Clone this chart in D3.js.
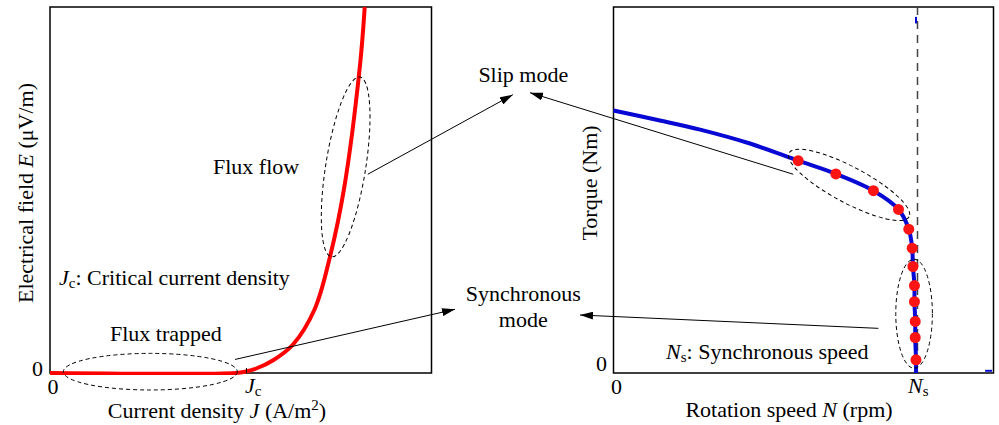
<!DOCTYPE html>
<html>
<head>
<meta charset="utf-8">
<script src="https://d3js.org/d3.v7.min.js"></script>
<style>
	body { margin: 0; background: #fff; }
	svg { display: block; font-family: "Liberation Serif", "Times New Roman", serif; }
</style>
</head>
<body>
<div id="chart"></div>
<script>
// E-J curve of the superconductor (arbitrary units, 0..100)
var currentJ = [0, 48.7, 51.3, 54.2, 58.5, 63.7, 69.4, 73.4, 77.1, 81.2, 82.5];
var fieldE   = [0, 0, 0.4, 1.3, 3.5, 7.8, 17.5, 31.8, 50.5, 83.5, 100];

// torque / rotation speed curve (arbitrary units, Ns = 80)
var speedN  = [0, 12.2, 22.8, 35.9, 48.6, 58.5, 68.4, 75.0, 77.7, 78.6, 78.8, 79.2, 79.2, 79.4, 79.4, 79.6, 79.6];
var torqueT = [71.7, 69.0, 66.5, 62.7, 58.0, 54.4, 49.8, 44.7, 39.3, 34.1, 29.1, 23.9, 19.5, 14.1, 9.7, 3.6, 0];

// measured points on top of the torque curve
var dotN = [48.6, 58.5, 68.4, 75.0, 77.7, 78.6, 78.8, 79.2, 79.2, 79.4, 79.4, 79.6];
var dotT = [58.0, 54.4, 49.8, 44.7, 39.3, 34.1, 29.1, 23.9, 19.5, 14.1, 9.7, 3.6];

// small stray pieces of the blue trace
var strayN = [[79.6, 79.6], [97.8, 99.6]];
var strayT = [[97.3, 95.5], [0.6, 0.6]];

// tick values
var jcValue = 51.5;
var nsValue = 80;

var width = 999, height = 425;

var svg = d3.select("#chart").append("svg")
	.attr("width", width)
	.attr("height", height);

// arrow head
svg.append("defs").append("marker")
	.attr("id", "arrow")
	.attr("markerUnits", "userSpaceOnUse")
	.attr("viewBox", "0 0 13 8")
	.attr("refX", 13)
	.attr("refY", 4)
	.attr("markerWidth", 13)
	.attr("markerHeight", 8)
	.attr("orient", "auto")
	.append("path")
	.attr("d", "M0,0L13,4L0,8Z")
	.attr("fill", "#000");

// scales for both panels
var xL = d3.scaleLinear().domain([0, 100]).range([50, 431.5]);
var yL = d3.scaleLinear().domain([0, 100]).range([373, 7]);
var xR = d3.scaleLinear().domain([0, 100]).range([613.5, 993.5]);
var yR = d3.scaleLinear().domain([0, 100]).range([373, 7]);

var fontSize = 22;

function zipXY(a, b) {
	return a.map(function (d, i) { return [d, b[i]]; });
}

function addText(sel, x, y, parts, anchor, rotate) {
	var t = sel.append("text")
		.attr("x", x)
		.attr("y", y)
		.attr("font-size", fontSize)
		.attr("text-anchor", anchor || "start")
		.attr("fill", "#000");
	if (rotate) t.attr("transform", "rotate(" + rotate + "," + x + "," + y + ")");
	parts.forEach(function (p) {
		var s = t.append("tspan").text(p.t);
		if (p.i) s.attr("font-style", "italic");
		if (p.sub) s.attr("font-size", 15).attr("baseline-shift", "-3");
		if (p.sup) s.attr("font-size", 15).attr("baseline-shift", "8");
	});
	return t;
}

// ---------- left panel ----------
svg.append("clipPath").attr("id", "clipL").append("rect")
	.attr("x", 48).attr("y", 7).attr("width", 383.5).attr("height", 368);

svg.append("rect")
	.attr("x", 50).attr("y", 7).attr("width", 381.5).attr("height", 366)
	.attr("fill", "none").attr("stroke", "#000").attr("stroke-width", 1.5);

var lineL = d3.line()
	.x(function (d) { return xL(d[0]); })
	.y(function (d) { return yL(d[1]); })
	.curve(d3.curveCatmullRom.alpha(0.5));

svg.append("path")
	.datum(zipXY(currentJ, fieldE))
	.attr("clip-path", "url(#clipL)")
	.attr("d", lineL)
	.attr("fill", "none")
	.attr("stroke", "#ff0000")
	.attr("stroke-width", 4);

// Jc tick
svg.append("line")
	.attr("x1", xL(jcValue)).attr("x2", xL(jcValue))
	.attr("y1", yL(0)).attr("y2", yL(0) - 5)
	.attr("stroke", "#000").attr("stroke-width", 1);

addText(svg, 43, 375.5, [{t: "0"}], "end");
addText(svg, xL(0) + 3, 393.5, [{t: "0"}], "middle");
addText(svg, xL(jcValue) - 1.5, 393, [{t: "J", i: 1}, {t: "c", sub: 1}], "start");
addText(svg, 217, 418, [{t: "Current density "}, {t: "J", i: 1}, {t: " (A/m"}, {t: "2", sup: 1}, {t: ")"}], "middle");
addText(svg, 33, 193, [{t: "Electrical field "}, {t: "E", i: 1}, {t: " (\u03bcV/m)"}], "middle", -90);

addText(svg, 213, 173.5, [{t: "Flux flow"}], "start");
addText(svg, 59, 285, [{t: "J", i: 1}, {t: "c", sub: 1}, {t: ": Critical current density"}], "start");
addText(svg, 110, 340.5, [{t: "Flux trapped"}], "start");

// ---------- right panel ----------
svg.append("rect")
	.attr("x", 613.5).attr("y", 7).attr("width", 380).attr("height", 366)
	.attr("fill", "none").attr("stroke", "#000").attr("stroke-width", 1.5);

var lineR = d3.line()
	.x(function (d) { return xR(d[0]); })
	.y(function (d) { return yR(d[1]); })
	.curve(d3.curveCatmullRom.alpha(0.5));

// synchronous speed
svg.append("line")
	.attr("x1", xR(nsValue)).attr("x2", xR(nsValue))
	.attr("y1", yR(100)).attr("y2", yR(0))
	.attr("stroke", "#444").attr("stroke-width", 1.5)
	.attr("stroke-dasharray", "8,6");

svg.append("path")
	.datum(zipXY(speedN, torqueT))
	.attr("d", lineR)
	.attr("fill", "none")
	.attr("stroke", "#0808d4")
	.attr("stroke-width", 4);

strayN.forEach(function (n, i) {
	svg.append("path")
		.datum(zipXY(n, strayT[i]))
		.attr("d", d3.line().x(function (d) { return xR(d[0]); }).y(function (d) { return yR(d[1]); }))
		.attr("fill", "none")
		.attr("stroke", "#0808d4")
		.attr("stroke-width", 2);
});

svg.selectAll("circle.dot")
	.data(zipXY(dotN, dotT))
	.enter().append("circle")
	.attr("class", "dot")
	.attr("cx", function (d) { return xR(d[0]); })
	.attr("cy", function (d) { return yR(d[1]); })
	.attr("r", 5.5)
	.attr("fill", "#ff1414");

addText(svg, 607, 371, [{t: "0"}], "end");
addText(svg, xR(0) + 3, 393.5, [{t: "0"}], "middle");
addText(svg, xR(nsValue) - 9.5, 393, [{t: "N", i: 1}, {t: "s", sub: 1}], "start");
addText(svg, 789, 417, [{t: "Rotation speed "}, {t: "N", i: 1}, {t: " (rpm)"}], "middle");
addText(svg, 597, 183, [{t: "Torque (Nm)"}], "middle", -90);
addText(svg, 666, 358.5, [{t: "N", i: 1}, {t: "s", sub: 1}, {t: ": Synchronous speed"}], "start");

// ---------- annotations ----------
var ellipses = [
	{x: xL, y: yL, cx: 77.5, cy: 56.3, rx: 20, ry: 91, angle: 9},
	{x: xL, y: yL, cx: 26.3, cy: 0.36, rx: 87, ry: 18.3, angle: 0},
	{x: xR, y: yR, cx: 62.0, cy: 51.4, rx: 68, ry: 18, angle: 28},
	{x: xR, y: yR, cx: 79.1, cy: 16.2, rx: 18.3, ry: 54.5, angle: 0}
];

ellipses.forEach(function (e) {
	var cx = e.x(e.cx), cy = e.y(e.cy);
	svg.append("ellipse")
		.attr("cx", cx).attr("cy", cy)
		.attr("rx", e.rx).attr("ry", e.ry)
		.attr("transform", "rotate(" + e.angle + "," + cx + "," + cy + ")")
		.attr("fill", "none")
		.attr("stroke", "#000")
		.attr("stroke-width", 1)
		.attr("stroke-dasharray", "4,3");
});

var slipLabel = {x: 523.3, y: 81.7};
var syncLabel = {x: 523.3, y: 300.7};

addText(svg, slipLabel.x, slipLabel.y, [{t: "Slip mode"}], "middle");
addText(svg, syncLabel.x, syncLabel.y, [{t: "Synchronous"}], "middle");
addText(svg, syncLabel.x, syncLabel.y + 26.6, [{t: "mode"}], "middle");

var arrows = [
	{x1: xL(83.3), y1: yL(54.3), x2: slipLabel.x - 10.5, y2: slipLabel.y + 13},
	{x1: xR(47.3), y1: yR(54.3), x2: slipLabel.x + 6.7, y2: slipLabel.y + 11},
	{x1: xL(48.5), y1: yL(3.7), x2: syncLabel.x - 68.3, y2: syncLabel.y + 8.6},
	{x1: xR(69.7), y1: yR(12.2), x2: syncLabel.x + 56.7, y2: syncLabel.y + 14.3}
];

svg.selectAll("line.arrow")
	.data(arrows)
	.enter().append("line")
	.attr("class", "arrow")
	.attr("x1", function (d) { return d.x1; })
	.attr("y1", function (d) { return d.y1; })
	.attr("x2", function (d) { return d.x2; })
	.attr("y2", function (d) { return d.y2; })
	.attr("stroke", "#000")
	.attr("stroke-width", 1)
	.attr("marker-end", "url(#arrow)");
</script>
</body>
</html>
